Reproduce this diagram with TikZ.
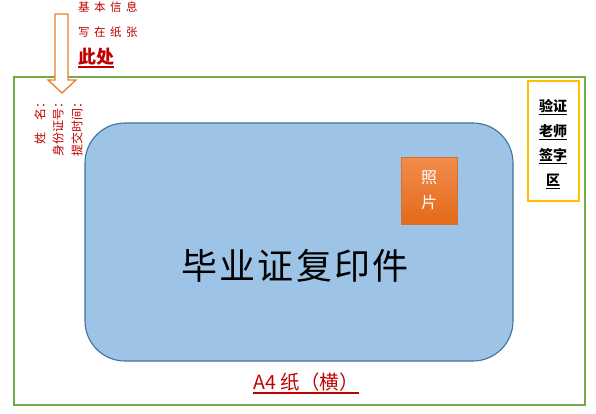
\documentclass[tikz,border=0pt]{standalone}
\usepackage{fontspec}
\setmainfont{Noto Sans CJK SC}
\definecolor{pgreen}{HTML}{70AD47}
\definecolor{pblue}{HTML}{9DC3E6}
\definecolor{pblueline}{HTML}{41719C}
\definecolor{porange}{HTML}{ED7D31}
\definecolor{porangetop}{HTML}{F28C4E}
\definecolor{porangebot}{HTML}{E36A18}
\definecolor{pyellow}{HTML}{FFC000}
\definecolor{pred}{HTML}{C00000}
\begin{document}
\begin{tikzpicture}[x=1pt,y=-1pt,
  redtxt/.style={text=pred, inner sep=0pt},
  vtxt/.style={redtxt, rotate=90, anchor=east, font=\fontsize{12}{14}\selectfont},
  signtxt/.style={inner sep=0pt, font=\fontsize{14}{16}\selectfont\bfseries},
  ulline/.style={line width=1.1pt}]
\useasboundingbox (0,0) rectangle (596,413);
% A4 sheet
\draw[pgreen, line width=1.6pt] (14,77) rectangle (585,405);
% certificate copy
\draw[pblueline, fill=pblue, line width=1.1pt, rounded corners=40pt] (85,123) rectangle (513,361);
\node[inner sep=0pt, font=\fontsize{36}{40}\selectfont] (cert) at (295,266) {毕\hspace{2.2pt}业\hspace{2.2pt}证\hspace{2.2pt}复\hspace{2.2pt}印\hspace{2.2pt}件};
% photo
\shade[top color=porangetop, bottom color=porangebot] (401,157) rectangle (457,224);
\draw[porange!90!black, line width=0.6pt] (401,157) rectangle (457,224);
\node[text=white, inner sep=0pt, align=center, font=\fontsize{16}{25}\selectfont] (photo) at (429,190) {照\\片};
% signature box
\draw[pyellow, line width=1.6pt] (528,81) rectangle (579,201);
\node[signtxt] (s1) at (553,106) {验证};
\node[signtxt] (s2) at (553,131) {老师};
\node[signtxt] (s3) at (553,155) {签字};
\node[signtxt] (s4) at (553,180) {区};
\foreach \n in {s1,s2,s3,s4}
  \draw[ulline] ([yshift=-2.8pt]\n.base west) -- ([yshift=-2.8pt]\n.base east);
% arrow
\draw[porange, line width=1.3pt, fill=white, line join=miter]
  (55,14) -- (68,14) -- (68,80) -- (76,80) -- (62,93) -- (48,80) -- (55,80) -- cycle;
% instructions
\node[redtxt, anchor=west, font=\fontsize{11.5}{13}\selectfont] (i1) at (78,7) {基\hspace{4.5pt}本\hspace{4.5pt}信\hspace{4.5pt}息};
\node[redtxt, anchor=west, font=\fontsize{11.5}{13}\selectfont] (i2) at (78,32) {写\hspace{4.5pt}在\hspace{4.5pt}纸\hspace{4.5pt}张};
\node[redtxt, anchor=west, font=\fontsize{18}{20}\selectfont\bfseries] (i3) at (78,57) {此处};
\draw[pred, line width=1.6pt] ([yshift=-3.5pt]i3.base west) -- ([yshift=-3.5pt]i3.base east);
% vertical fields
\node[vtxt] (f1) at (40,96) {姓\hspace{12pt}名：};
\node[vtxt] (f2) at (58,96) {身份证号：};
\node[vtxt] (f3) at (77,96) {提交时间：};
% caption
\node[redtxt, font=\fontsize{19.5}{22}\selectfont] (a4) at (306,382) {A4 纸（横）};
\draw[pred, line width=1.8pt] ([yshift=-3.5pt]a4.base west) -- ([yshift=-3.5pt]a4.base east);
\end{tikzpicture}
\end{document}
